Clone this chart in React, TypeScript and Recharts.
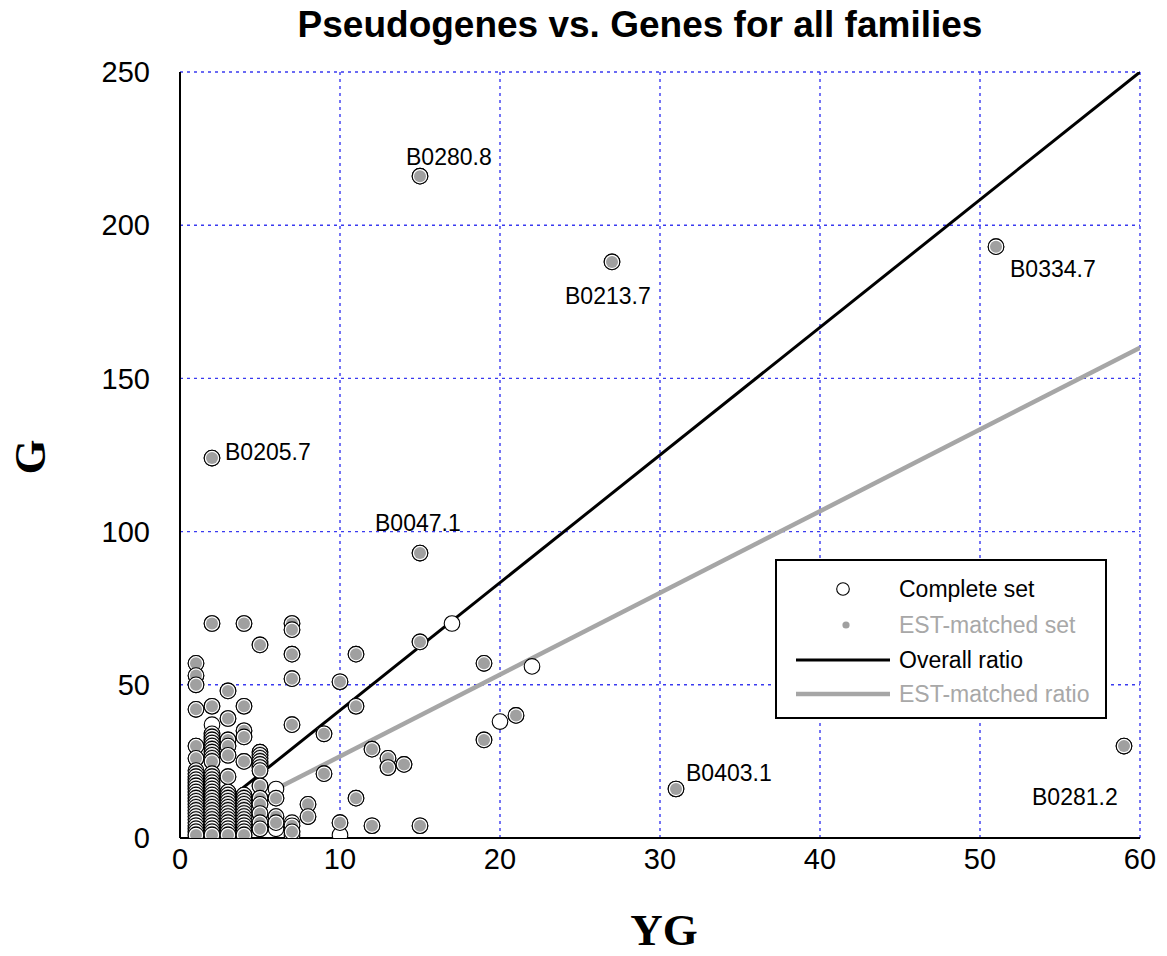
import React from 'react';
import {
    ScatterChart,
    Scatter,
    XAxis,
    YAxis,
    CartesianGrid,
    Customized,
} from 'recharts';

// Families that have EST-matched genes (drawn as grey dots inside the circle)
const estMatched: [number, number][] = [
    [1, 57], [1, 53], [1, 50], [1, 42], [1, 30], [1, 26], [1, 22], [1, 21], [1, 20], [1, 19],
    [1, 18], [1, 17], [1, 16], [1, 15], [1, 14], [1, 13], [1, 12], [1, 11], [1, 10], [1, 9],
    [1, 8], [1, 7], [1, 6], [1, 5], [1, 4], [1, 3], [1, 2], [1, 1],
    [2, 124], [2, 70], [2, 43], [2, 34], [2, 33], [2, 32], [2, 31], [2, 30], [2, 29], [2, 28],
    [2, 27], [2, 26], [2, 25], [2, 21], [2, 20], [2, 19], [2, 18], [2, 17], [2, 16], [2, 15],
    [2, 14], [2, 13], [2, 12], [2, 11], [2, 10], [2, 9], [2, 8], [2, 7], [2, 6], [2, 5],
    [2, 4], [2, 3], [2, 2], [2, 1],
    [3, 48], [3, 39], [3, 32], [3, 30], [3, 27], [3, 20], [3, 15], [3, 14], [3, 13], [3, 12],
    [3, 11], [3, 10], [3, 9], [3, 8], [3, 7], [3, 6], [3, 5], [3, 4], [3, 3], [3, 2], [3, 1],
    [4, 70], [4, 43], [4, 35], [4, 33], [4, 25], [4, 14], [4, 13], [4, 12], [4, 11], [4, 10],
    [4, 9], [4, 8], [4, 7], [4, 6], [4, 5], [4, 4], [4, 3], [4, 2], [4, 1],
    [5, 63], [5, 28], [5, 27], [5, 26], [5, 25], [5, 24], [5, 23], [5, 22], [5, 17], [5, 13],
    [5, 11], [5, 8], [5, 5], [5, 3],
    [6, 13], [6, 7], [6, 5],
    [7, 70], [7, 68], [7, 60], [7, 52], [7, 37], [7, 4], [7, 2],
    [8, 11], [8, 7],
    [9, 34], [9, 21],
    [10, 51], [10, 5],
    [11, 60], [11, 43], [11, 13],
    [12, 29], [12, 4],
    [13, 26], [13, 23],
    [14, 24],
    [15, 216], [15, 93], [15, 64], [15, 4],
    [19, 57], [19, 32],
    [21, 40],
    [27, 188],
    [31, 16],
    [51, 193],
    [59, 30],
];

// Families in the complete set only (open circles)
const completeOnly: [number, number][] = [
    [2, 37], [6, 16], [6, 3], [7, 5], [7, 1], [10, 1], [17, 70], [20, 38], [22, 56],
];

const namedFamilies = [
    { x: 15, y: 216, name: 'B0280.8' },
    { x: 27, y: 188, name: 'B0213.7' },
    { x: 51, y: 193, name: 'B0334.7' },
    { x: 2, y: 124, name: 'B0205.7' },
    { x: 15, y: 93, name: 'B0047.1' },
    { x: 31, y: 16, name: 'B0403.1' },
    { x: 59, y: 30, name: 'B0281.2' },
];

const overallRatio = [
    { x: 3.3, y: 13.75 },
    { x: 60, y: 250 },
];

const estRatio = [
    { x: 5.6, y: 14.9 },
    { x: 60, y: 160 },
];

const xTicks = [0, 10, 20, 30, 40, 50, 60];
const yTicks = [0, 50, 100, 150, 200, 250];

const FONT = '"Liberation Sans", Arial, Helvetica, sans-serif';
const SERIF = '"Liberation Serif", "Times New Roman", serif';
const GREY_DOT = '#a0a0a0';
const GREY_LINE = '#a6a6a6';
const GREY_TEXT = '#a8a8a8';

// where each label sits relative to its point (text start, cap middle)
const labelOffsets: Record<string, [number, number]> = {
    'B0280.8': [-14, -19],
    'B0213.7': [-47, 34],
    'B0334.7': [14, 22],
    'B0205.7': [13, -6],
    'B0047.1': [-45, -30],
    'B0403.1': [10, -16],
    'B0281.2': [-92, 51],
};

const toPoints = (list: [number, number][]) => list.map(([x, y]) => ({ x, y }));
const completeSet = [...toPoints(estMatched), ...toPoints(completeOnly)];
const estSet = toPoints(estMatched);

const OpenMarker = (props: any) => (
    <circle cx={props.cx} cy={props.cy} r={7.8} fill="#fff" stroke="#000" strokeWidth={1.1} />
);

const EstMarker = (props: any) => (
    <g>
        <circle cx={props.cx} cy={props.cy} r={7.8} fill="#fff" stroke="#000" strokeWidth={1.1} />
        <circle cx={props.cx} cy={props.cy} r={6} fill={GREY_DOT} />
    </g>
);

const NoMarker = () => <g />;

const FamilyLabel = (props: any) => {
    const [dx, dy] = labelOffsets[props.payload.name] || [0, 0];
    return (
        <text
            x={props.cx + dx}
            y={props.cy + dy + 8}
            fontSize={23}
            fontFamily={FONT}
            fill="#000"
        >
            {props.payload.name}
        </text>
    );
};

const Titles = () => (
    <g>
        <text x={640} y={37} textAnchor="middle" fontSize={37} fontWeight="bold" fontFamily={FONT}>
            Pseudogenes vs. Genes for all families
        </text>
        <text x={664} y={945} textAnchor="middle" fontSize={45} fontWeight="bold" fontFamily={SERIF}>
            YG
        </text>
        <text
            x={45}
            y={457}
            textAnchor="middle"
            fontSize={45}
            fontWeight="bold"
            fontFamily={SERIF}
            transform="rotate(-90, 45, 457)"
        >
            G
        </text>
    </g>
);

const LegendBox = () => (
    <g transform="translate(776, 560)" fontFamily={FONT} fontSize={23}>
        <rect x={0} y={0} width={330} height={158} fill="#fff" stroke="#000" strokeWidth={2} />
        <circle cx={67} cy={29} r={6.3} fill="#fff" stroke="#000" strokeWidth={1.1} />
        <text x={123} y={37} fill="#000">Complete set</text>
        <circle cx={70} cy={65} r={3.6} fill={GREY_DOT} />
        <text x={123} y={73} fill={GREY_TEXT}>EST-matched set</text>
        <line x1={20} x2={114} y1={100} y2={100} stroke="#000" strokeWidth={3} />
        <text x={123} y={108} fill="#000">Overall ratio</text>
        <line x1={20} x2={114} y1={134} y2={134} stroke={GREY_LINE} strokeWidth={4.5} />
        <text x={123} y={142} fill={GREY_TEXT}>EST-matched ratio</text>
    </g>
);

const App: React.FC = () => {
    return (
        <div style={{ position: 'absolute', left: 0, top: 0, background: '#fff' }}>
            <ScatterChart
                width={1167}
                height={956}
                margin={{ top: 72, right: 27, bottom: 78, left: 100 }}
            >
                <CartesianGrid stroke="#3a3af0" strokeDasharray="3 4" strokeWidth={1.4} />
                <XAxis
                    type="number"
                    dataKey="x"
                    domain={[0, 60]}
                    ticks={xTicks}
                    height={40}
                    tickLine={false}
                    tickSize={0}
                    tickMargin={10}
                    axisLine={{ stroke: '#000', strokeWidth: 2 }}
                    tick={{ fill: '#000', fontSize: 29, fontFamily: FONT }}
                    allowDataOverflow
                />
                <YAxis
                    type="number"
                    dataKey="y"
                    domain={[0, 250]}
                    ticks={yTicks}
                    width={80}
                    tickLine={false}
                    tickSize={0}
                    tickMargin={30}
                    axisLine={{ stroke: '#000', strokeWidth: 2 }}
                    tick={{ fill: '#000', fontSize: 29, fontFamily: FONT }}
                    allowDataOverflow
                />
                <Scatter
                    name="Overall ratio"
                    data={overallRatio}
                    line={{ stroke: '#000', strokeWidth: 3 }}
                    shape={NoMarker}
                    isAnimationActive={false}
                />
                <Scatter
                    name="EST-matched ratio"
                    data={estRatio}
                    line={{ stroke: GREY_LINE, strokeWidth: 4.5 }}
                    shape={NoMarker}
                    isAnimationActive={false}
                />
                <Scatter
                    name="Complete set"
                    data={completeSet}
                    shape={OpenMarker}
                    isAnimationActive={false}
                />
                <Scatter
                    name="EST-matched set"
                    data={estSet}
                    shape={EstMarker}
                    isAnimationActive={false}
                />
                <Scatter
                    name="labels"
                    data={namedFamilies}
                    shape={FamilyLabel}
                    isAnimationActive={false}
                />
                <Customized component={LegendBox} />
                <Customized component={Titles} />
            </ScatterChart>
        </div>
    );
};

export default App;
